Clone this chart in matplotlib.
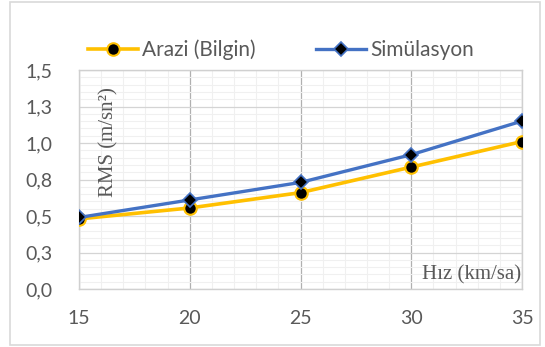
import matplotlib.pyplot as plt
from matplotlib.patches import Rectangle
from matplotlib.ticker import MultipleLocator, FixedLocator

hiz = [15, 20, 25, 30, 35]
arazi = [0.48, 0.555, 0.66, 0.835, 1.01]
simulasyon = [0.49, 0.61, 0.73, 0.92, 1.15]
y_ticks = [0.0, 0.25, 0.5, 0.75, 1.0, 1.25, 1.5]
y_labels = ["0,0", "0,3", "0,5", "0,8", "1,0", "1,3", "1,5"]

plt.rcParams['font.family'] = ['Lato', 'DejaVu Sans']
txt = '#595959'

fig = plt.figure(figsize=(5.45, 3.47), dpi=100)
fig.patches.append(Rectangle((10/545, 2/347), 530/545, 343/347, transform=fig.transFigure,
                             fill=False, edgecolor='#D9D9D9', linewidth=1.2))
ax = fig.add_axes([79/545, 1 - 289/347, 443/545, 219/347])

ax.plot(hiz, arazi, color='#FFC000', lw=2.6, marker='o', ms=9, mfc='black',
        mec='#FFC000', mew=1.5, label='Arazi (Bilgin)', zorder=3)
ax.plot(hiz, simulasyon, color='#4472C4', lw=2.4, marker='D', ms=7, mfc='black',
        mec='#4472C4', mew=1.2, label='Simülasyon', zorder=4)

ax.set_xlim(15, 35)
ax.set_ylim(0, 1.5)
ax.xaxis.set_major_locator(FixedLocator(hiz))
ax.xaxis.set_minor_locator(MultipleLocator(1))
ax.yaxis.set_major_locator(FixedLocator(y_ticks))
ax.yaxis.set_minor_locator(MultipleLocator(0.05))
ax.set_yticklabels(y_labels)

ax.grid(which='minor', color='#F0F0F0', lw=0.8)
ax.grid(which='major', axis='y', color='#D4D4D4', lw=0.9)
ax.grid(which='major', axis='x', color='#B0B0B0', lw=0.9)
ax.set_axisbelow(True)
for s in ax.spines.values():
    s.set_color('#D0D0D0')
    s.set_linewidth(1)

ax.tick_params(which='both', length=0)
ax.tick_params(axis='y', labelsize=14, labelcolor=txt, pad=19)
ax.tick_params(axis='x', labelsize=14, labelcolor=txt, pad=15)

ax.text(0.068, 0.67, 'RMS (m/sn²)', transform=ax.transAxes, rotation=90,
        ha='center', va='center', fontsize=15, color=txt, family='Liberation Serif')
ax.text(0.998, 0.065, 'Hız (km/sa)', transform=ax.transAxes, ha='right', va='center',
        fontsize=15, color=txt, family='Liberation Serif')

fig.legend(loc='center', bbox_to_anchor=(0.515, 1 - 50/347), ncol=2, frameon=False,
           fontsize=15, labelcolor=txt, handlelength=2.4, columnspacing=2.9,
           handletextpad=0.2)

fig.savefig('out.png', dpi=100)
